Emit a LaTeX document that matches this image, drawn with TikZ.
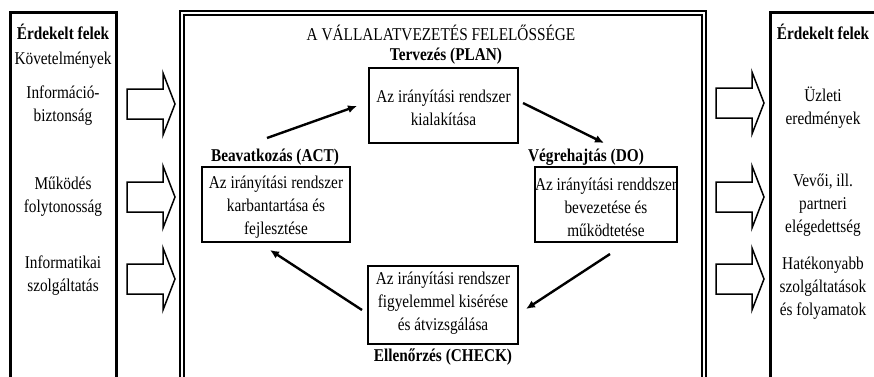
\documentclass[tikz,border=0pt]{standalone}
\usepackage{fontspec}
\setmainfont{Liberation Serif}[FakeStretch=0.85]
\usetikzlibrary{arrows.meta}
\begin{document}
\begin{tikzpicture}[x=1pt,y=-1pt,
  txt/.style={font=\fontsize{18}{23}\selectfont, align=center, inner sep=0pt},
  lbl/.style={txt, font=\fontsize{18}{23}\selectfont\bfseries},
  stepbox/.style={draw, line width=1.8pt, inner sep=0pt},
  outer/.style={line width=3pt, line join=miter},
  flow/.style={line width=2.4pt, -{Latex[length=9pt,width=8pt]}},
  blockline/.style={line width=1.5pt, line join=miter},
  barrow/.pic={\draw[blockline] (0,-15) -- (36,-15) -- (36,-31) -- (48,0) -- (36,31) -- (36,15) -- (0,15) -- cycle;}
]
\useasboundingbox (0,0) rectangle (874,376);

% outer frames
\draw[outer] (10,382) -- (10,12) -- (116,12) -- (116,382);
\draw[outer] (770,382) -- (770,12) -- (882,12);
\draw[line width=1.7pt, double, double distance=2.3pt, line join=miter] (182,382) -- (182,13) -- (704,13) -- (704,382);

% left column
\node[lbl] (lt) at (63,32) {Érdekelt felek};
\node[txt] (lreq) at (63,60) {Követelmények};
\node[txt] (l1) at (63,106) {Információ-\\biztonság};
\node[txt] (l2) at (63,197) {Működés\\folytonosság};
\node[txt] (l3) at (63,276) {Informatikai\\szolgáltatás};

% right column
\node[lbl] (rt) at (823,32) {Érdekelt felek};
\node[txt] (r1) at (823,108) {Üzleti\\eredmények};
\node[txt] (r2) at (823,205) {Vevői, ill.\\partneri\\elégedettség};
\node[txt] (r3) at (823,288) {Hatékonyabb\\szolgáltatások\\és folyamatok};

% block arrows
\pic (la1) at (127,104) {barrow};
\pic (la2) at (127,197) {barrow};
\pic (la3) at (127,279) {barrow};
\pic (ra1) at (716,103) {barrow};
\pic (ra2) at (716,197) {barrow};
\pic (ra3) at (716,279) {barrow};

% middle
\node[txt] (title) at (441,33) {A VÁLLALATVEZETÉS FELELŐSSÉGE};

\node[lbl] (planl) at (446,56) {Tervezés (PLAN)};
\node[stepbox, minimum width=149pt, minimum height=75pt] (plan) at (443.5,105.5) {};
\node[txt] (plant) at (443.5,108) {Az irányítási rendszer\\kialakítása};

\node[lbl] (actl) at (275,157) {Beavatkozás (ACT)};
\node[stepbox, minimum width=148pt, minimum height=75pt] (act) at (276,204.5) {};
\node[txt] (actt) at (276,207) {Az irányítási rendszer\\karbantartása és\\fejlesztése};

\node[lbl] (dol) at (586,157) {Végrehajtás (DO)};
\node[stepbox, minimum width=142pt, minimum height=75pt] (do) at (606,204.5) {};
\node[txt] (dot) at (606,207) {Az irányítási renddszer\\bevezetése és\\működtetése};

\node[stepbox, minimum width=150pt, minimum height=78pt] (check) at (443,305) {};
\node[txt] (checkt) at (443,303) {Az irányítási rendszer\\figyelemmel kisérése\\és átvizsgálása};
\node[lbl] (checkl) at (443,357) {Ellenőrzés (CHECK)};

% cycle arrows
\coordinate (a1s) at (267,138);
\coordinate (a1e) at (357,106);
\coordinate (a2s) at (523,103);
\coordinate (a2e) at (604,143);
\coordinate (a3s) at (610,254);
\coordinate (a3e) at (526,309);
\coordinate (a4s) at (362,310);
\coordinate (a4e) at (270,250);
\draw[flow] (a1s) -- (a1e);
\draw[flow] (a2s) -- (a2e);
\draw[flow] (a3s) -- (a3e);
\draw[flow] (a4s) -- (a4e);
\end{tikzpicture}
\end{document}
